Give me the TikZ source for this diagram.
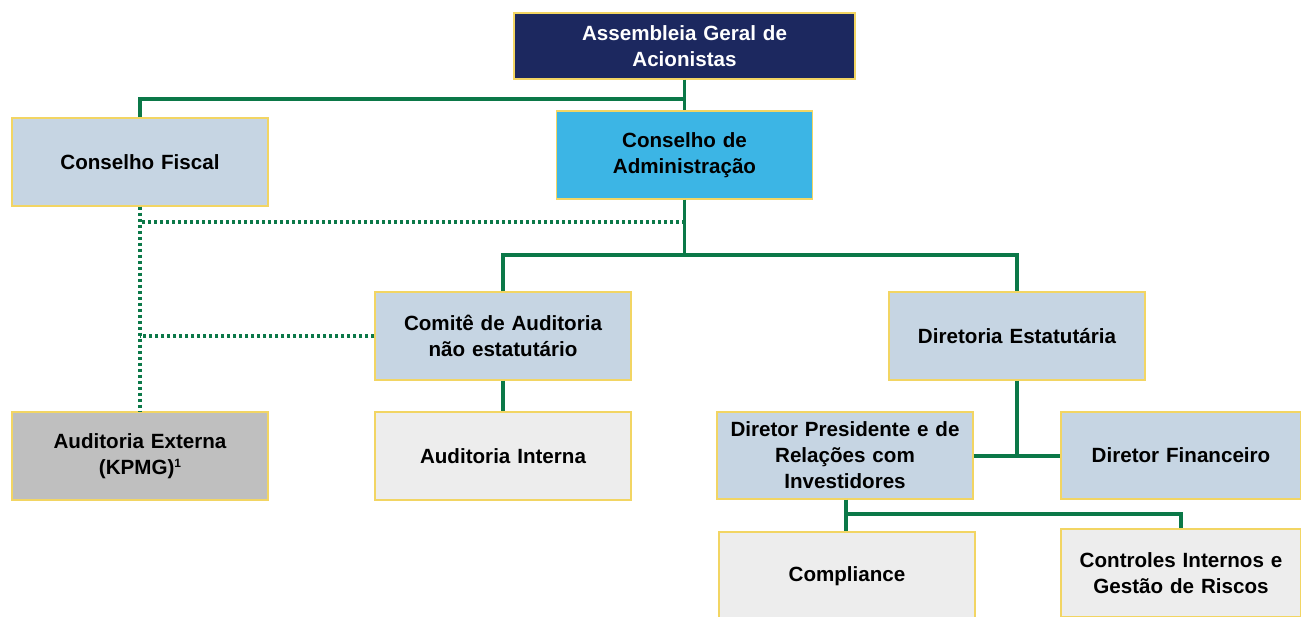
\documentclass[tikz,border=0pt]{standalone}
\usepackage{fontspec}
\setmainfont{Liberation Sans}
\usetikzlibrary{positioning}

\definecolor{navy}{HTML}{1C285F}
\definecolor{sky}{HTML}{3CB5E5}
\definecolor{steel}{HTML}{C6D5E3}
\definecolor{greybox}{HTML}{BFBFBF}
\definecolor{pale}{HTML}{EDEDED}
\definecolor{rim}{HTML}{F2D563}
\definecolor{wire}{HTML}{0B7848}

\tikzset{
  unit/.style={draw=rim, line width=1.2pt, fill=steel, minimum width=256pt, minimum height=88pt,
    text width=246pt, align=center, font=\fontsize{20.6}{26}\selectfont\bfseries, inner sep=0pt},
  link/.style={draw=wire, line width=3.2pt},
  dotlink/.style={draw=wire, line width=3.2pt, dash pattern=on 3pt off 3pt}
}

\begin{document}
\begin{tikzpicture}[x=1pt, y=-1pt]
\useasboundingbox (0,0) rectangle (1301,616);

\node[unit, fill=navy, text=white, minimum width=341pt, minimum height=66pt] (aga) at (684.5,46) {Assembleia Geral de\\Acionistas};
\node[unit] (cf) at (140,162) {Conselho Fiscal};
\node[unit, fill=sky] (ca) at (684.5,155) {Conselho de\\Administração};
\node[unit] (cau) at (503,336) {Comitê de Auditoria\\não estatutário};
\node[unit] (de) at (1017,336) {Diretoria Estatutária};
\node[unit, fill=greybox] (ae) at (140,456) {Auditoria Externa\\(KPMG)\raisebox{7pt}{\fontsize{12}{12}\selectfont 1}};
\node[unit, fill=pale] (ai) at (503,456) {Auditoria Interna};
\node[unit, minimum height=87pt] (dp) at (845,455.5) {Diretor Presidente e de\\Relações com\\Investidores};
\node[unit, minimum height=87pt, minimum width=240pt, text width=236pt] (df) at (1181,455.5) {Diretor Financeiro};
\node[unit, fill=pale] (comp) at (847,576) {Compliance};
\node[unit, fill=pale, minimum width=240pt, text width=236pt] (ctrl) at (1181,573) {Controles Internos e\\Gestão de Riscos};

\coordinate (top) at (684.5,99);
\coordinate (mid) at (684.5,255);
\coordinate (dash1) at (684.5,222);
\coordinate (fork) at (1017,456);
\coordinate (low) at (846,514);

\draw[link] (aga) -- (ca);
\draw[link] (top) -| (cf.north);
\draw[link] (ca.south) -- (mid);
\draw[link] (cau.north) |- (mid) -| (de.north);
\draw[link] (cau) -- (ai);
\draw[link] (de.south) -- (fork);
\draw[link] (dp.east |- fork) -- (df.west |- fork);
\draw[link] (dp.south -| low) -- (low) -- (low |- comp.north);
\draw[link] (low) -| (ctrl.north);

\draw[dotlink] (cf.south) -- (ae.north);
\draw[dotlink] (dash1) -- (dash1 -| cf.south);
\draw[dotlink] (cau.west) -- (cau.west -| cf.south);
\end{tikzpicture}
\end{document}
